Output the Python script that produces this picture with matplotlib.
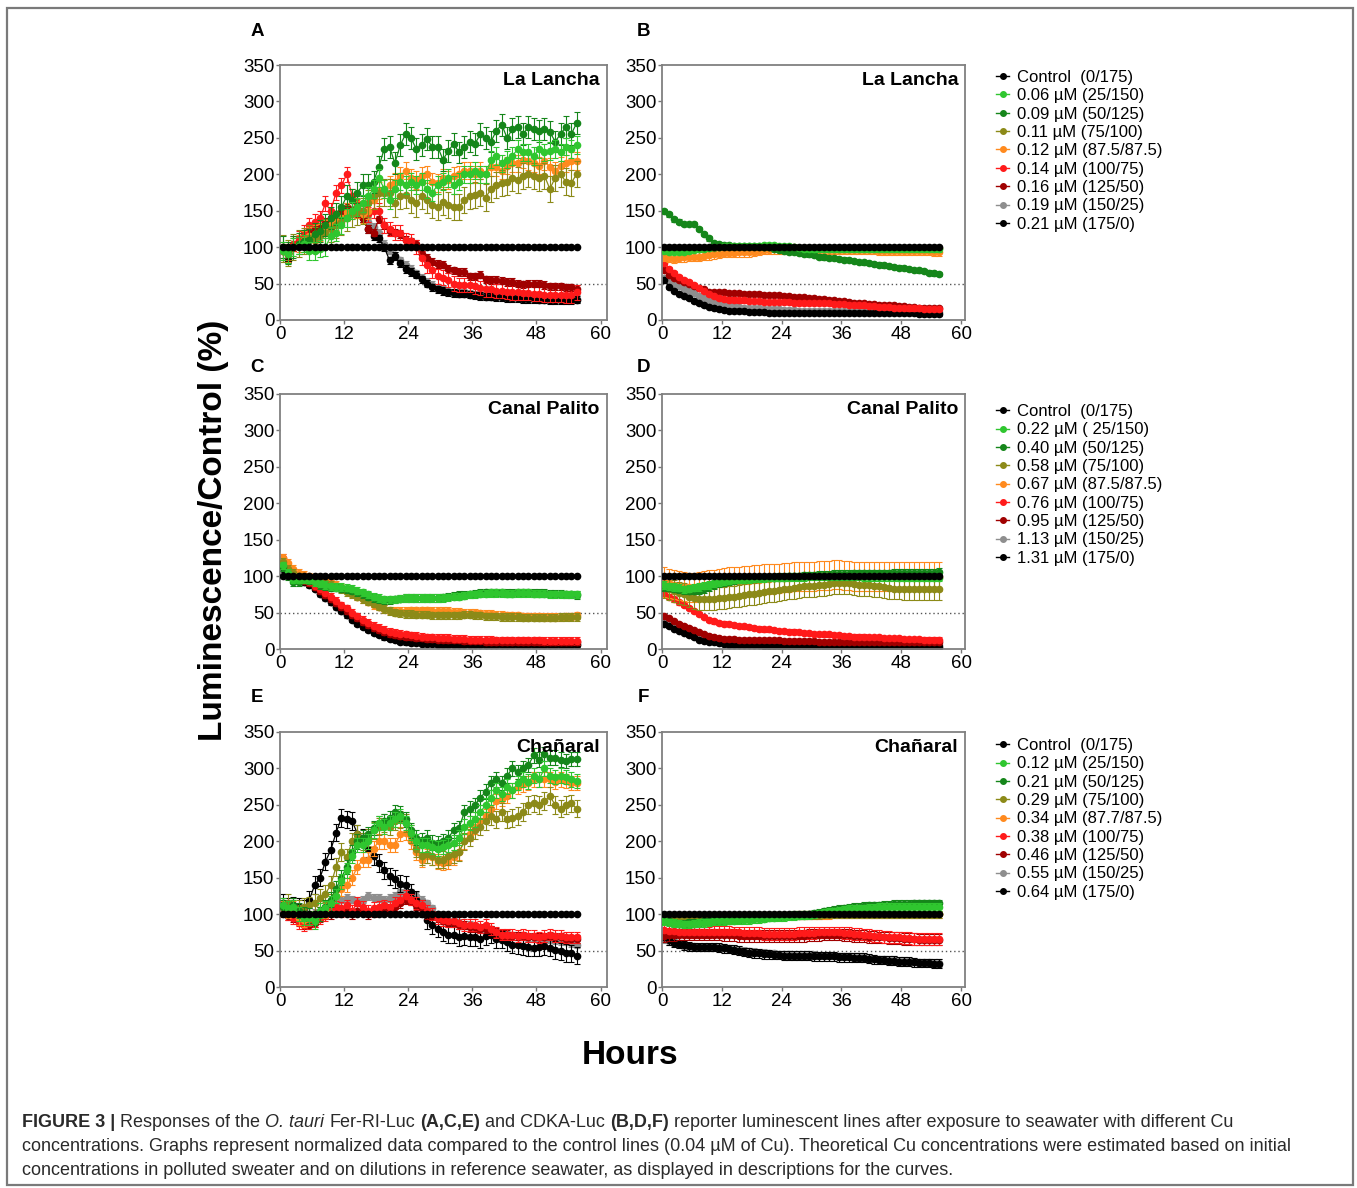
import numpy as np
import matplotlib
matplotlib.use('Agg')
import matplotlib.pyplot as plt
from matplotlib.lines import Line2D
from matplotlib.patches import Rectangle

plt.rcParams['font.family'] = ['Liberation Sans', 'DejaVu Sans']

W, H = 1357, 1188
HOURS = np.arange(56) + 0.5  # one reading per hour

# ---------------- data (% of control) ----------------
CONTROL = [100] * 56

# A: La Lancha, Fer-RI-Luc
A_GREEN = [95, 90, 100, 102, 105, 95, 95, 98,
           100, 115, 120, 130, 140, 150, 155, 160,
           170, 180, 195, 180, 165, 180, 190, 185,
           190, 185, 190, 180, 175, 185, 190, 195,
           185, 190, 200, 200, 205, 200, 200, 220,
           225, 215, 220, 225, 235, 230, 230, 225,
           235, 230, 232, 235, 230, 238, 235, 240]
A_DKGREEN = [100, 92, 100, 105, 108, 110, 118, 122,
             130, 140, 145, 155, 170, 165, 175, 185,
             185, 190, 210, 235, 238, 215, 240, 255,
             250, 235, 240, 248, 238, 238, 220, 232,
             242, 230, 238, 245, 242, 255, 250, 245,
             260, 268, 250, 262, 265, 255, 265, 262,
             260, 262, 258, 245, 255, 265, 255, 270]
A_OLIVE = [98, 92, 100, 105, 108, 112, 110, 115,
           120, 125, 130, 135, 140, 145, 148, 150,
           160, 170, 175, 175, 175, 160, 170, 172,
           165, 160, 170, 165, 158, 155, 162, 158,
           155, 155, 165, 170, 172, 175, 168, 180,
           185, 188, 190, 195, 192, 198, 200, 198,
           195, 198, 180, 195, 200, 190, 188, 200]
A_ORANGE = [95, 92, 100, 105, 110, 115, 118, 120,
            125, 130, 135, 140, 148, 150, 152, 145,
            150, 165, 178, 180, 185, 190, 198, 205,
            195, 192, 198, 200, 190, 188, 195, 192,
            198, 200, 205, 205, 200, 205, 200, 210,
            210, 205, 212, 215, 215, 220, 218, 215,
            212, 218, 210, 205, 212, 215, 218, 218]
A_RED = [95, 92, 105, 112, 120, 130, 135, 140,
         160, 150, 175, 185, 200, 170, 160, 150,
         145, 150, 150, 130, 125, 120, 120, 110,
         108, 100, 85, 75, 68, 60, 58, 55,
         50, 48, 48, 48, 46, 44, 42, 42,
         40, 40, 39, 38, 38, 37, 37, 36,
         36, 35, 35, 35, 35, 34, 34, 38]
A_DARKRED = [95, 92, 100, 108, 112, 120, 125, 128,
             135, 140, 145, 150, 155, 150, 145, 140,
             125, 120, 138, 130, 122, 120, 118, 110,
             108, 105, 90, 85, 80, 77, 76, 70,
             68, 66, 66, 60, 60, 62, 56, 55,
             55, 54, 52, 52, 50, 49, 50, 50,
             50, 48, 46, 46, 46, 45, 45, 43]
A_GRAY = [98, 90, 102, 106, 110, 115, 122, 125,
          130, 135, 140, 145, 150, 152, 148, 140,
          135, 128, 120, 105, 95, 88, 82, 76,
          70, 64, 58, 52, 48, 44, 42, 40,
          38, 37, 37, 36, 35, 34, 34, 33,
          33, 32, 32, 31, 31, 31, 30, 30,
          30, 29, 29, 29, 28, 28, 28, 29]
A_BLACK = [98, 83, 100, 105, 108, 112, 118, 122,
           128, 133, 138, 142, 148, 150, 148, 140,
           125, 115, 112, 100, 82, 88, 78, 70,
           66, 62, 56, 50, 45, 42, 40, 38,
           37, 36, 36, 35, 34, 33, 32, 32,
           31, 31, 30, 30, 30, 29, 29, 29,
           28, 28, 27, 27, 27, 27, 27, 28]

# B: La Lancha, CDKA-Luc
B_GREEN = [95, 94, 93, 93, 94, 95, 96, 97,
           98, 99, 100, 100, 101, 101, 101, 101,
           102, 102, 102, 102, 103, 103, 103, 102,
           102, 101, 100, 99, 98, 98, 97, 97,
           97, 97, 97, 97, 97, 97, 97, 97,
           97, 97, 97, 97, 97, 97, 97, 97,
           97, 97, 97, 97, 97, 97, 97, 97]
B_DKGREEN = [150, 145, 138, 135, 132, 132, 132, 125,
             118, 112, 106, 104, 103, 103, 102, 102,
             102, 102, 102, 101, 100, 100, 98, 96,
             95, 94, 93, 92, 91, 90, 89, 87,
             86, 85, 85, 84, 83, 82, 81, 80,
             79, 78, 77, 76, 75, 74, 73, 72,
             71, 70, 69, 68, 67, 65, 64, 63]
B_OLIVE = [98, 98, 98, 98, 98, 98, 98, 98,
           99, 99, 99, 100, 100, 100, 100, 100,
           100, 100, 100, 100, 100, 100, 100, 100,
           100, 100, 100, 99, 99, 99, 99, 99,
           99, 99, 99, 99, 99, 99, 99, 99,
           99, 99, 99, 99, 99, 99, 99, 99,
           99, 99, 99, 99, 99, 99, 99, 99]
B_ORANGE = [87, 85, 84, 85, 86, 87, 87, 87,
            88, 89, 90, 91, 92, 92, 92, 93,
            93, 93, 94, 95, 96, 96, 97, 97,
            97, 97, 97, 97, 97, 97, 97, 96,
            96, 96, 96, 96, 96, 96, 96, 96,
            96, 96, 96, 95, 95, 95, 95, 95,
            95, 95, 95, 95, 95, 95, 94, 94]
B_RED = [78, 70, 64, 59, 55, 52, 48, 44,
         40, 36, 33, 30, 29, 28, 28, 27,
         27, 26, 26, 26, 25, 25, 25, 25,
         25, 25, 24, 24, 24, 24, 24, 23,
         23, 23, 22, 22, 22, 21, 21, 20,
         20, 19, 19, 18, 18, 18, 17, 17,
         17, 16, 16, 16, 15, 15, 15, 15]
B_DARKRED = [68, 62, 58, 55, 52, 50, 47, 44,
             42, 39, 38, 38, 38, 37, 37, 37,
             36, 36, 36, 36, 35, 35, 34, 34,
             33, 33, 32, 31, 31, 30, 30, 29,
             29, 28, 27, 26, 26, 25, 24, 23,
             23, 22, 22, 21, 21, 20, 20, 19,
             19, 18, 18, 17, 17, 17, 16, 16]
B_GRAY = [58, 52, 49, 46, 43, 40, 37, 33,
          30, 27, 24, 22, 21, 20, 19, 18,
          17, 17, 16, 16, 15, 15, 15, 15,
          14, 14, 14, 13, 13, 13, 13, 13,
          13, 13, 12, 12, 12, 12, 12, 12,
          12, 12, 12, 12, 12, 12, 11, 11,
          11, 11, 11, 11, 11, 11, 11, 11]
B_BLACK = [55, 45, 40, 36, 33, 30, 26, 23,
           20, 18, 16, 15, 14, 13, 12, 12,
           12, 11, 11, 11, 11, 10, 10, 10,
           10, 10, 10, 10, 10, 10, 10, 10,
           10, 10, 9, 9, 9, 9, 9, 9,
           9, 9, 9, 9, 9, 9, 9, 9,
           9, 9, 9, 8, 8, 8, 8, 8]

# C: Canal Palito, Fer-RI-Luc
C_GREEN = [115, 105, 95, 95, 96, 95, 92, 90,
           88, 86, 85, 85, 84, 83, 80, 78,
           75, 72, 70, 68, 68, 68, 69, 70,
           70, 70, 70, 70, 70, 70, 70, 71,
           72, 72, 73, 75, 75, 76, 76, 77,
           77, 77, 76, 76, 77, 77, 77, 76,
           76, 76, 75, 75, 75, 75, 75, 75]
C_DKGREEN = [112, 100, 92, 92, 95, 94, 92, 88,
             86, 84, 84, 83, 82, 80, 78, 75,
             72, 70, 68, 67, 67, 68, 69, 70,
             70, 70, 70, 70, 70, 70, 71, 72,
             73, 74, 74, 75, 76, 77, 78, 78,
             78, 78, 77, 77, 78, 78, 78, 77,
             77, 77, 76, 76, 76, 75, 75, 74]
C_OLIVE = [120, 110, 105, 100, 98, 97, 95, 92,
           90, 88, 85, 82, 78, 75, 72, 68,
           65, 62, 58, 55, 52, 50, 49, 48,
           48, 47, 47, 47, 46, 46, 46, 46,
           46, 46, 47, 47, 46, 46, 45, 45,
           45, 44, 44, 44, 44, 43, 43, 43,
           43, 43, 43, 43, 44, 44, 44, 44]
C_ORANGE = [125, 118, 110, 105, 102, 100, 98, 96,
            95, 92, 88, 84, 80, 76, 72, 68,
            65, 60, 58, 55, 53, 52, 52, 52,
            53, 53, 53, 53, 52, 52, 52, 52,
            51, 51, 50, 50, 50, 49, 48, 48,
            47, 47, 46, 46, 46, 45, 45, 45,
            45, 44, 44, 44, 44, 45, 45, 46]
C_RED = [125, 112, 105, 100, 95, 92, 87, 82,
         77, 72, 66, 60, 56, 50, 45, 40,
         36, 32, 29, 26, 24, 22, 21, 20,
         19, 18, 17, 16, 16, 15, 15, 15,
         14, 14, 14, 13, 13, 13, 13, 13,
         12, 12, 12, 12, 12, 12, 12, 12,
         12, 11, 11, 11, 11, 11, 11, 11]
C_DARKRED = [120, 108, 102, 98, 93, 90, 85, 79,
             74, 69, 63, 57, 52, 47, 42, 37,
             33, 29, 26, 23, 21, 19, 18, 17,
             16, 15, 15, 14, 14, 13, 13, 12,
             12, 12, 11, 11, 11, 11, 10, 10,
             10, 10, 10, 10, 10, 10, 10, 10,
             9, 9, 9, 9, 9, 9, 9, 9]
C_GRAY = [115, 105, 100, 96, 92, 88, 83, 76,
          70, 64, 58, 52, 46, 41, 36, 31,
          27, 23, 20, 18, 16, 14, 13, 12,
          11, 10, 10, 9, 9, 9, 8, 8,
          8, 8, 8, 8, 7, 7, 7, 7,
          7, 7, 7, 7, 7, 7, 7, 7,
          7, 7, 7, 7, 7, 7, 7, 7]
C_BLACK = [110, 102, 98, 95, 92, 88, 82, 76,
           70, 64, 58, 52, 46, 40, 35, 30,
           26, 22, 19, 16, 14, 12, 10, 9,
           8, 8, 7, 7, 7, 6, 6, 6,
           6, 6, 6, 6, 6, 6, 5, 5,
           5, 5, 5, 5, 5, 5, 5, 5,
           5, 5, 5, 5, 5, 5, 5, 5]

# D: Canal Palito, CDKA-Luc
D_GREEN = [88, 86, 85, 84, 82, 83, 84, 85,
           87, 88, 90, 92, 93, 94, 95, 95,
           96, 96, 97, 97, 97, 98, 98, 98,
           98, 99, 99, 99, 99, 100, 100, 100,
           100, 100, 100, 100, 100, 100, 100, 100,
           99, 99, 99, 99, 99, 99, 99, 98,
           98, 98, 98, 98, 98, 98, 98, 98]
D_DKGREEN = [85, 84, 83, 82, 81, 80, 80, 80,
             82, 85, 88, 90, 92, 93, 94, 95,
             96, 96, 97, 97, 98, 98, 98, 99,
             99, 100, 100, 100, 101, 101, 101, 102,
             102, 102, 103, 103, 103, 103, 104, 104,
             104, 104, 104, 104, 104, 104, 105, 105,
             105, 105, 105, 105, 105, 105, 105, 106]
D_OLIVE = [85, 82, 80, 77, 75, 72, 70, 68,
           68, 68, 69, 70, 70, 71, 72, 73,
           74, 75, 76, 77, 78, 79, 80, 81,
           82, 83, 84, 85, 86, 86, 87, 88,
           88, 89, 90, 90, 90, 90, 89, 88,
           88, 88, 87, 86, 85, 84, 83, 83,
           82, 82, 82, 82, 82, 82, 82, 82]
D_ORANGE = [92, 90, 88, 87, 86, 85, 85, 86,
            87, 88, 89, 90, 91, 92, 93, 93,
            94, 94, 95, 95, 96, 96, 97, 97,
            98, 98, 99, 99, 100, 100, 100, 101,
            101, 101, 102, 102, 101, 101, 100, 100,
            100, 100, 100, 100, 100, 100, 100, 100,
            100, 100, 99, 99, 99, 99, 99, 99]
D_RED = [75, 72, 68, 64, 60, 56, 52, 48,
         44, 40, 38, 36, 35, 34, 33, 32,
         31, 30, 29, 28, 27, 27, 26, 25,
         25, 24, 24, 23, 22, 22, 21, 21,
         20, 20, 19, 19, 18, 18, 17, 17,
         17, 16, 16, 16, 15, 15, 15, 15,
         14, 14, 14, 14, 13, 13, 13, 13]
D_DARKRED = [45, 42, 38, 35, 32, 29, 26, 23,
             20, 18, 16, 15, 14, 14, 14, 13,
             13, 13, 13, 12, 12, 12, 12, 12,
             11, 11, 11, 11, 11, 11, 11, 10,
             10, 10, 10, 10, 10, 10, 10, 10,
             10, 10, 10, 10, 9, 9, 9, 9,
             9, 9, 9, 9, 9, 9, 9, 9]
D_GRAY = [38, 34, 31, 28, 25, 22, 19, 16,
          14, 12, 11, 10, 9, 8, 8, 7,
          7, 7, 6, 6, 6, 6, 6, 6,
          6, 6, 5, 5, 5, 5, 5, 5,
          5, 5, 5, 5, 5, 5, 5, 5,
          5, 5, 5, 5, 5, 5, 5, 5,
          5, 5, 5, 5, 5, 5, 5, 5]
D_BLACK = [35, 31, 28, 25, 22, 19, 16, 13,
           11, 10, 9, 8, 7, 6, 6, 5,
           5, 5, 5, 5, 4, 4, 4, 4,
           4, 4, 4, 4, 4, 4, 4, 4,
           3, 3, 3, 3, 3, 3, 3, 3,
           3, 3, 3, 3, 3, 3, 3, 3,
           3, 3, 3, 3, 3, 3, 3, 3]

# E: Chañaral, Fer-RI-Luc
E_GREEN = [112, 108, 110, 100, 95, 95, 90, 105,
           108, 115, 125, 145, 160, 180, 195, 195,
           200, 215, 225, 220, 225, 230, 235, 225,
           212, 200, 195, 195, 192, 190, 192, 195,
           198, 205, 220, 225, 230, 240, 250, 260,
           270, 265, 275, 270, 280, 285, 282, 290,
           285, 300, 290, 288, 290, 288, 285, 283]
E_DKGREEN = [110, 108, 112, 105, 100, 98, 95, 100,
             110, 120, 135, 150, 165, 185, 200, 205,
             210, 218, 225, 228, 232, 240, 238, 230,
             215, 205, 202, 205, 198, 197, 200, 205,
             215, 218, 240, 245, 250, 260, 268, 280,
             285, 280, 290, 300, 295, 300, 305, 318,
             312, 320, 315, 315, 312, 310, 313, 313]
E_OLIVE = [110, 115, 110, 108, 110, 112, 115, 122,
           128, 140, 165, 185, 178, 200, 210, 200,
           205, 215, 220, 225, 220, 228, 230, 225,
           210, 190, 180, 182, 180, 175, 175, 180,
           182, 185, 200, 205, 215, 220, 228, 235,
           230, 240, 230, 232, 235, 240, 250, 252,
           250, 255, 262, 250, 245, 250, 252, 245]
E_ORANGE = [108, 105, 108, 95, 92, 95, 95, 100,
            105, 115, 125, 135, 140, 150, 165, 175,
            175, 190, 200, 200, 195, 195, 210, 212,
            200, 185, 175, 180, 178, 172, 170, 172,
            178, 185, 200, 210, 220, 228, 235, 245,
            255, 258, 262, 270, 275, 278, 280, 285,
            285, 285, 285, 282, 285, 283, 280, 280]
E_RED = [105, 100, 95, 88, 85, 88, 90, 95,
         98, 105, 110, 108, 112, 105, 115, 110,
         105, 108, 110, 112, 110, 115, 120, 125,
         120, 115, 112, 105, 100, 95, 92, 90,
         90, 88, 85, 85, 85, 82, 85, 80,
         75, 72, 72, 72, 70, 72, 70, 70,
         68, 70, 72, 70, 70, 68, 68, 68]
E_DARKRED = [102, 98, 95, 90, 85, 85, 88, 95,
             100, 100, 105, 102, 105, 100, 105, 105,
             100, 102, 105, 105, 108, 110, 115, 120,
             118, 112, 108, 100, 98, 95, 90, 88,
             88, 85, 85, 82, 82, 80, 80, 78,
             75, 72, 72, 70, 70, 70, 68, 68,
             68, 68, 70, 68, 68, 66, 66, 66]
E_GRAY = [110, 108, 108, 105, 100, 100, 102, 105,
          108, 112, 115, 120, 122, 120, 118, 120,
          125, 122, 122, 120, 122, 125, 130, 132,
          130, 125, 120, 115, 108, 100, 95, 92,
          90, 88, 85, 85, 82, 80, 80, 78,
          75, 72, 72, 70, 70, 70, 68, 68,
          67, 66, 65, 64, 63, 62, 60, 58]
E_BLACK = [115, 110, 112, 110, 108, 120, 140, 150,
           172, 188, 212, 232, 230, 228, 210, 205,
           190, 180, 170, 160, 152, 148, 142, 140,
           130, 120, 108, 92, 85, 80, 75, 72,
           72, 68, 70, 68, 68, 66, 70, 72,
           66, 65, 62, 58, 57, 56, 55, 54,
           55, 56, 54, 51, 49, 47, 46, 43]

# F: Chañaral, CDKA-Luc
F_GREEN = [90, 89, 88, 87, 86, 86, 87, 88,
           88, 89, 90, 90, 90, 91, 91, 92,
           92, 92, 93, 93, 94, 95, 95, 96,
           96, 97, 97, 98, 98, 99, 100, 101,
           102, 103, 104, 105, 106, 107, 107, 108,
           108, 109, 109, 110, 110, 110, 110, 110,
           110, 110, 110, 110, 110, 110, 110, 110]
F_DKGREEN = [92, 90, 88, 87, 87, 88, 88, 89,
             90, 90, 91, 91, 92, 92, 93, 93,
             94, 94, 95, 95, 96, 96, 97, 97,
             98, 98, 99, 99, 100, 100, 101, 102,
             104, 105, 106, 107, 108, 109, 110, 110,
             111, 112, 112, 112, 113, 113, 114, 114,
             114, 114, 115, 115, 115, 115, 115, 115]
F_OLIVE = [95, 94, 93, 93, 92, 92, 93, 94,
           95, 95, 96, 96, 96, 97, 97, 97,
           97, 97, 97, 98, 98, 98, 98, 98,
           98, 98, 99, 99, 99, 99, 99, 99,
           100, 100, 100, 100, 100, 100, 100, 100,
           100, 100, 100, 100, 100, 100, 100, 100,
           100, 100, 100, 100, 100, 100, 100, 100]
F_ORANGE = [96, 95, 94, 93, 93, 93, 94, 95,
            95, 96, 96, 96, 97, 97, 97, 97,
            97, 98, 98, 98, 98, 98, 98, 98,
            98, 98, 98, 99, 99, 99, 99, 99,
            99, 99, 100, 100, 100, 100, 100, 100,
            100, 100, 100, 100, 100, 100, 100, 100,
            100, 100, 100, 100, 100, 100, 100, 100]
F_RED = [78, 77, 77, 76, 76, 75, 75, 75,
         75, 75, 76, 76, 76, 76, 75, 75,
         74, 74, 74, 74, 73, 73, 73, 73,
         73, 73, 73, 74, 74, 74, 74, 75,
         75, 75, 75, 75, 74, 74, 73, 73,
         72, 71, 70, 70, 69, 69, 68, 68,
         67, 67, 66, 66, 66, 66, 66, 66]
F_DARKRED = [70, 71, 71, 72, 72, 72, 72, 72,
             72, 72, 72, 72, 71, 71, 71, 70,
             70, 70, 70, 70, 70, 70, 70, 70,
             70, 70, 70, 70, 70, 71, 71, 71,
             72, 72, 72, 72, 71, 71, 70, 70,
             70, 69, 69, 68, 68, 67, 67, 67,
             66, 66, 66, 65, 65, 65, 65, 65]
F_GRAY = [66, 63, 61, 59, 57, 56, 56, 55,
          55, 55, 55, 54, 54, 53, 52, 51,
          50, 49, 48, 47, 47, 46, 46, 45,
          45, 45, 44, 44, 44, 44, 44, 43,
          43, 43, 43, 42, 42, 42, 41, 41,
          40, 40, 39, 38, 38, 37, 37, 36,
          36, 35, 35, 34, 34, 34, 33, 33]
F_BLACK = [68, 64, 61, 59, 57, 56, 55, 55,
           55, 55, 55, 54, 53, 52, 51, 50,
           48, 47, 46, 46, 45, 45, 44, 44,
           43, 43, 43, 43, 43, 43, 42, 42,
           42, 42, 42, 41, 41, 41, 40, 40,
           40, 39, 38, 37, 37, 36, 36, 35,
           35, 35, 34, 33, 33, 33, 32, 32]

# typical SEM per series (order: green, dkgreen, olive, orange, red, darkred, gray, black)
A_ERR = [12, 15, 18, 12, 10, 5, 5, 5]
B_ERR = [3, 3, 3, 6, 3, 2, 2, 2]
C_ERR = [5, 5, 5, 5, 5, 4, 4, 3]
D_ERR = [5, 5, 15, 20, 3, 2, 2, 2]
E_ERR = [10, 10, 12, 10, 8, 6, 5, 12]
F_ERR = [5, 5, 5, 5, 8, 8, 5, 6]

LEGEND_B = ['Control  (0/175)', '0.06 µM (25/150)', '0.09 µM (50/125)', '0.11 µM (75/100)',
            '0.12 µM (87.5/87.5)', '0.14 µM (100/75)', '0.16 µM (125/50)', '0.19 µM (150/25)',
            '0.21 µM (175/0)']
LEGEND_D = ['Control  (0/175)', '0.22 µM ( 25/150)', '0.40 µM (50/125)', '0.58 µM (75/100)',
            '0.67 µM (87.5/87.5)', '0.76 µM (100/75)', '0.95 µM (125/50)', '1.13 µM (150/25)',
            '1.31 µM (175/0)']
LEGEND_F = ['Control  (0/175)', '0.12 µM (25/150)', '0.21 µM (50/125)', '0.29 µM (75/100)',
            '0.34 µM (87.7/87.5)', '0.38 µM (100/75)', '0.46 µM (125/50)', '0.55 µM (150/25)',
            '0.64 µM (175/0)']

# control first, then 25/150 ... 175/0
COLORS = ['#000000', '#2fc62f', '#15861a', '#8c8a18', '#ff8a1e',
          '#ff1a1a', '#a00000', '#8e8e8e', '#000000']
DRAW_ORDER = [6, 7, 5, 4, 3, 2, 1, 0]  # gray, black, dark red, red, orange, olive, dk green, green

PANELS = {
    'A': ('La Lancha', [A_GREEN, A_DKGREEN, A_OLIVE, A_ORANGE, A_RED, A_DARKRED, A_GRAY, A_BLACK], A_ERR, None),
    'B': ('La Lancha', [B_GREEN, B_DKGREEN, B_OLIVE, B_ORANGE, B_RED, B_DARKRED, B_GRAY, B_BLACK], B_ERR, LEGEND_B),
    'C': ('Canal Palito', [C_GREEN, C_DKGREEN, C_OLIVE, C_ORANGE, C_RED, C_DARKRED, C_GRAY, C_BLACK], C_ERR, None),
    'D': ('Canal Palito', [D_GREEN, D_DKGREEN, D_OLIVE, D_ORANGE, D_RED, D_DARKRED, D_GRAY, D_BLACK], D_ERR, LEGEND_D),
    'E': ('Chañaral', [E_GREEN, E_DKGREEN, E_OLIVE, E_ORANGE, E_RED, E_DARKRED, E_GRAY, E_BLACK], E_ERR, None),
    'F': ('Chañaral', [F_GREEN, F_DKGREEN, F_OLIVE, F_ORANGE, F_RED, F_DARKRED, F_GRAY, F_BLACK], F_ERR, LEGEND_F),
}

# ---------------- layout (pixels) ----------------
COL_X = {0: (280, 327, 61.2), 1: (662, 303, 60.8)}
ROW_TOP = [65, 394, 732]
AX_H = 255
LETTER_XY = {'A': (257, 32), 'B': (643, 32), 'C': (257, 368),
             'D': (643, 368), 'E': (257, 698), 'F': (643, 698)}
LEGEND_TOP = [70, 404, 738]

fig = plt.figure(figsize=(W / 100, H / 100), dpi=100)
fig.patches.append(Rectangle((7 / W, 1 - 1185 / H), 1346 / W, 1177 / H, transform=fig.transFigure,
                             fill=False, ec='#7a7a7a', lw=1.6))

for i, key in enumerate('ABCDEF'):
    row, col = divmod(i, 2)
    x0, w, xmax = COL_X[col]
    top = ROW_TOP[row]
    ax = fig.add_axes([x0 / W, 1 - (top + AX_H) / H, w / W, AX_H / H])
    site, series, errs, legend = PANELS[key]

    ax.axhline(50, color='#555555', ls=(0, (1, 2)), lw=1, zorder=1)
    for k, j in enumerate(DRAW_ORDER):
        ax.errorbar(HOURS, series[j], yerr=errs[j], fmt='-o', color=COLORS[j + 1], ms=4.5,
                    lw=0.9, elinewidth=0.8, capsize=2, capthick=0.8, zorder=2 + k * 0.1)
    ax.plot(HOURS, CONTROL, '-o', color=COLORS[0], ms=4.5, lw=0.9, zorder=4)

    ax.set_xlim(0, xmax)
    ax.set_ylim(0, 350)
    ax.set_xticks(range(0, 61, 12))
    ax.set_yticks(range(0, 351, 50))
    ax.tick_params(direction='out', length=3, width=1, color='#777777', labelsize=13.5, pad=1)
    for sp in ax.spines.values():
        sp.set_color('#808080')
        sp.set_linewidth(1.3)
    ax.text(0.978, 0.94, site, transform=ax.transAxes, ha='right', va='center',
            fontsize=14, fontweight='bold')

    lx, ly = LETTER_XY[key]
    fig.text(lx / W, 1 - ly / H, key, ha='center', va='center', fontsize=13.5, fontweight='bold')

    if legend:
        handles = [Line2D([], [], color=c, marker='o', ms=4, lw=1) for c in COLORS]
        fig.legend(handles, legend, loc='upper left', bbox_to_anchor=(996 / W, 1 - LEGEND_TOP[row] / H),
                   frameon=False, fontsize=12, handlelength=0.8, handletextpad=0.45,
                   labelspacing=0.2, borderpad=0, borderaxespad=0)

fig.text(213 / W, 1 - 530 / H, 'Luminescence/Control (%)', rotation=90, ha='center', va='center',
         fontsize=24, fontweight='bold')
fig.text(630 / W, 1 - 1055 / H, 'Hours', ha='center', va='center', fontsize=24, fontweight='bold')

# ---------------- caption ----------------
CAPTION = [
    [('FIGURE 3 |', 'bold', 'normal'), ('Responses of the', 'normal', 'normal'),
     ('O. tauri', 'normal', 'italic'), ('Fer-RI-Luc', 'normal', 'normal'),
     ('(A,C,E)', 'bold', 'normal'), ('and CDKA-Luc', 'normal', 'normal'),
     ('(B,D,F)', 'bold', 'normal'),
     ('reporter luminescent lines after exposure to seawater with different Cu', 'normal', 'normal')],
    [('concentrations. Graphs represent normalized data compared to the control lines (0.04 µM of Cu). '
      'Theoretical Cu concentrations were estimated based on initial', 'normal', 'normal')],
    [('concentrations in polluted sweater and on dilutions in reference seawater, as displayed in '
      'descriptions for the curves.', 'normal', 'normal')],
]
CAP_BASE = [1127, 1151, 1175]
CAP_SIZE = 13

renderer = fig.canvas.get_renderer()
for line, y in zip(CAPTION, CAP_BASE):
    x = 22
    for txt, weight, style in line:
        t = fig.text(x / W, 1 - y / H, txt, fontsize=CAP_SIZE, fontweight=weight, fontstyle=style,
                     color='#2a2a2a', ha='left', va='baseline')
        bb = t.get_window_extent(renderer=renderer)
        x = bb.x1 + CAP_SIZE * 0.278 * 100 / 72

fig.savefig('out.png', dpi=100)
